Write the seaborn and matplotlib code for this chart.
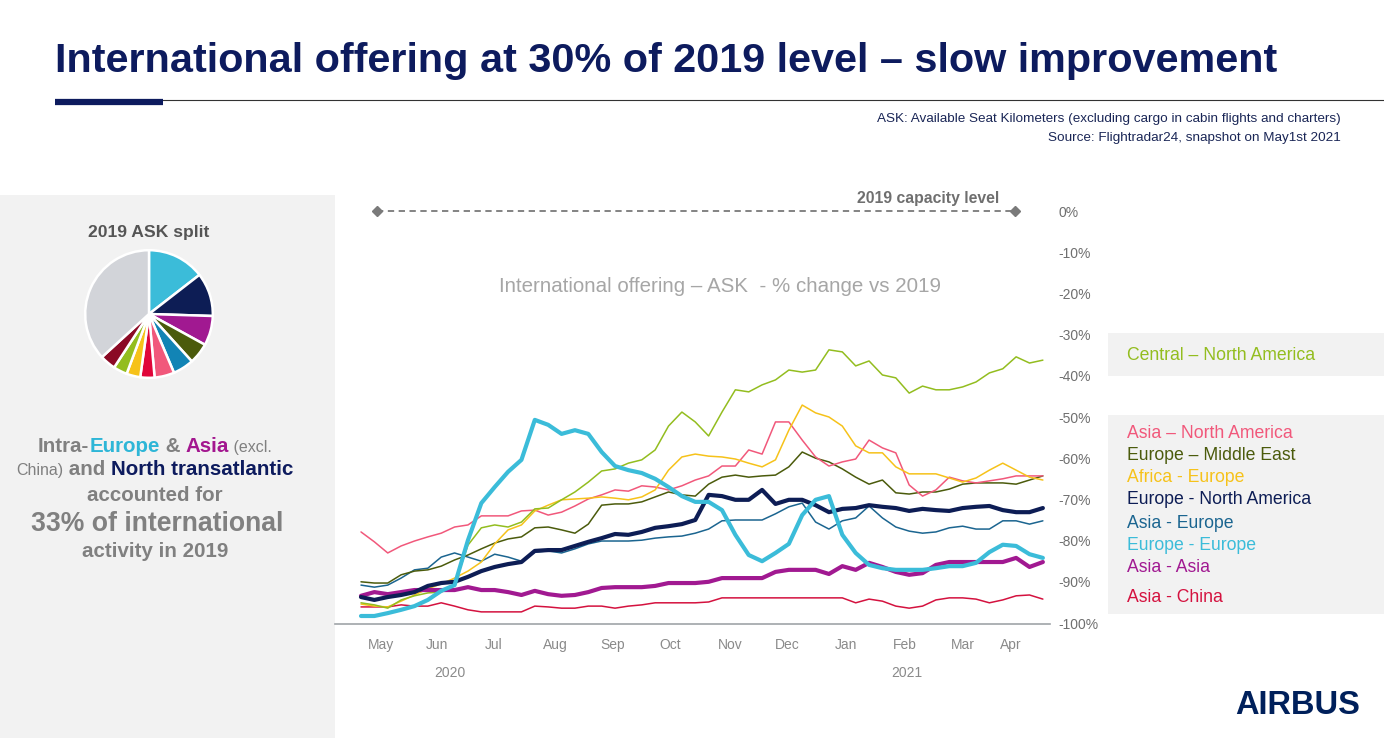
import numpy as np
import pandas as pd
import matplotlib
matplotlib.use("Agg")
import matplotlib.pyplot as plt
from matplotlib.patches import Rectangle
import matplotlib.transforms as mtrans
import seaborn as sns

# ---------------- data ----------------
weeks = list(range(52))

europe_europe = [-98.3, -98.3, -97.6, -96.8, -95.9, -94.4, -92.2, -90.8, -79.9, -70.9,
                 -67.0, -63.3, -60.4, -50.7, -51.9, -54.1, -53.2, -54.1, -58.5, -61.9,
                 -62.9, -63.6, -65.0, -67.0, -69.2, -70.6, -70.6, -72.6, -78.6, -83.5,
                 -85.0, -83.0, -80.8, -73.8, -70.1, -69.2, -78.6, -83.0, -85.9, -86.7,
                 -87.1, -87.1, -87.1, -86.7, -86.2, -86.2, -85.4, -82.8, -81.0, -81.3,
                 -83.3, -84.2]
europe_north_america = [-93.7, -94.4, -93.7, -93.2, -92.5, -91.0, -90.3, -90.0, -88.8, -87.4,
                        -86.4, -85.7, -85.2, -82.5, -82.3, -82.3, -81.3, -80.3, -79.4, -78.4,
                        -78.6, -77.9, -76.9, -76.5, -76.0, -75.0, -68.9, -69.2, -70.1, -70.1,
                        -67.7, -71.1, -70.1, -70.1, -71.4, -73.1, -72.3, -72.1, -71.4, -71.8,
                        -72.1, -72.8, -72.3, -72.6, -72.8, -72.1, -71.8, -71.6, -72.6, -73.1,
                        -73.1, -72.1]
asia_asia = [-93.4, -92.5, -93.0, -92.5, -92.0, -92.0, -92.0, -92.0, -91.3, -92.0,
             -92.0, -92.5, -93.2, -92.2, -93.0, -93.4, -93.2, -92.5, -91.5, -91.3,
             -91.3, -91.3, -91.0, -90.3, -90.3, -90.3, -90.0, -89.1, -89.1, -89.1,
             -89.1, -87.6, -87.1, -87.1, -87.1, -88.1, -86.2, -87.1, -85.4, -86.4,
             -87.6, -88.3, -87.9, -85.9, -85.2, -85.2, -85.2, -85.2, -85.2, -84.2,
             -86.4, -85.2]
asia_china = [-96.1, -96.1, -96.1, -95.6, -95.9, -95.9, -95.1, -95.9, -96.8, -97.3,
              -97.3, -97.3, -97.3, -95.9, -96.1, -96.4, -96.4, -95.9, -95.9, -96.4,
              -95.9, -95.6, -95.1, -95.1, -95.1, -95.1, -94.9, -93.9, -93.9, -93.9,
              -93.9, -93.9, -93.9, -93.9, -93.9, -93.9, -93.9, -95.1, -94.2, -94.7,
              -95.9, -96.4, -95.9, -94.4, -93.9, -93.9, -94.2, -95.1, -94.4, -93.4,
              -93.2, -94.2]
asia_europe = [-90.8, -91.3, -90.8, -89.1, -87.1, -86.7, -84.0, -83.0, -84.0, -85.0,
               -83.3, -84.0, -85.0, -82.8, -82.5, -83.0, -82.0, -80.8, -80.1, -80.1,
               -80.1, -79.9, -79.4, -79.1, -78.9, -78.2, -77.2, -75.2, -75.0, -75.0,
               -75.0, -73.5, -71.8, -70.9, -75.5, -77.2, -75.2, -74.5, -71.6, -74.5,
               -76.7, -77.7, -78.2, -77.9, -76.9, -76.5, -77.2, -77.2, -75.2, -75.2,
               -76.0, -75.2]
europe_middle_east = [-90.0, -90.3, -90.3, -88.3, -87.4, -87.1, -86.2, -84.7, -83.5, -82.0,
                      -80.6, -79.6, -79.1, -76.9, -76.7, -77.4, -78.2, -76.0, -71.4, -71.1,
                      -71.1, -70.6, -69.4, -68.2, -68.9, -69.2, -66.3, -64.6, -64.1, -64.6,
                      -64.3, -64.1, -62.1, -58.5, -60.0, -60.9, -62.6, -64.6, -66.3, -65.3,
                      -68.4, -68.7, -68.2, -68.2, -67.5, -66.3, -66.0, -66.0, -66.0, -66.3,
                      -65.3, -64.3]
asia_north_america = [-77.9, -80.3, -83.0, -81.3, -80.1, -79.1, -78.2, -76.7, -76.2, -74.0,
                      -74.0, -74.0, -72.8, -72.6, -73.8, -73.1, -71.6, -69.9, -68.9, -67.7,
                      -68.0, -66.7, -67.0, -67.7, -66.7, -65.3, -64.3, -61.9, -61.9, -58.0,
                      -59.0, -51.2, -51.2, -55.6, -59.7, -61.9, -60.9, -60.2, -55.6, -57.5,
                      -58.7, -66.5, -69.2, -67.7, -64.6, -65.5, -66.0, -65.5, -65.0, -64.3,
                      -64.3, -64.3]
africa_europe = [-95.4, -95.9, -96.1, -94.7, -93.2, -91.7, -90.5, -89.1, -87.4, -85.2,
                 -80.8, -77.4, -76.2, -72.8, -71.4, -70.1, -69.9, -69.7, -69.4, -69.7,
                 -70.1, -69.4, -67.7, -62.9, -59.7, -59.0, -59.5, -59.7, -60.2, -61.2,
                 -62.1, -60.4, -53.2, -47.1, -49.0, -50.0, -52.2, -57.0, -58.7, -58.7,
                 -62.1, -63.8, -63.8, -63.8, -64.8, -65.8, -64.8, -62.9, -61.2, -62.9,
                 -64.6, -65.3]
central_north_america = [-95.1, -95.6, -96.4, -94.4, -93.4, -92.7, -92.5, -90.8, -81.1, -76.9,
                         -76.2, -76.7, -75.5, -72.3, -72.1, -70.1, -68.2, -65.8, -63.1, -62.6,
                         -61.2, -60.4, -58.0, -52.2, -48.8, -51.2, -54.6, -48.8, -43.4, -43.9,
                         -42.2, -41.0, -38.6, -39.1, -38.6, -33.7, -34.2, -37.6, -36.4, -39.8,
                         -40.5, -44.2, -42.5, -43.4, -43.4, -42.7, -41.5, -39.3, -38.3, -35.4,
                         -36.9, -36.2]

month_labels = ["May", "Jun", "Jul", "Aug", "Sep", "Oct", "Nov", "Dec", "Jan", "Feb", "Mar", "Apr"]
month_pos = [1.5, 5.68, 9.95, 14.5, 18.85, 23.1, 27.6, 31.9, 36.3, 40.7, 45.0, 48.6]
year_labels = ["2020", "2021"]
year_pos = [6.66, 40.84]
y_ticks = [0, -10, -20, -30, -40, -50, -60, -70, -80, -90, -100]
y_tick_labels = ["0%", "-10%", "-20%", "-30%", "-40%", "-50%", "-60%", "-70%", "-80%", "-90%", "-100%"]

pie_labels = ["Europe - Europe", "Europe - North America", "Asia - Asia", "Europe - Middle East",
              "Asia - Europe", "Asia - North America", "Asia - China", "Africa - Europe",
              "Central - North America", "Other-1", "Other"]
pie_values = [14.5, 11.0, 7.5, 5.3, 5.3, 5.0, 3.6, 3.5, 3.5, 4.0, 36.8]

# ---------------- styles ----------------
colors = {
    "Central – North America": "#93bd1f",
    "Asia – North America": "#f1587b",
    "Europe – Middle East": "#4b5b0c",
    "Africa - Europe": "#f6c21a",
    "Europe - North America": "#0d1d55",
    "Asia - Europe": "#1b6590",
    "Europe - Europe": "#3bbcd9",
    "Asia - Asia": "#a11991",
    "Asia - China": "#d4123f",
}
pie_colors = ["#3bbcd9", "#0d1d55", "#a11991", "#4b5b0c", "#1284b5", "#f1587b",
              "#e0063a", "#f6c21a", "#93bd1f", "#8b0a25", "#d2d4d9"]

series = [
    ("Asia - China", asia_china, 1.1),
    ("Asia - Europe", asia_europe, 1.1),
    ("Europe – Middle East", europe_middle_east, 1.1),
    ("Asia – North America", asia_north_america, 1.1),
    ("Africa - Europe", africa_europe, 1.1),
    ("Central – North America", central_north_america, 1.1),
    ("Asia - Asia", asia_asia, 3.0),
    ("Europe - North America", europe_north_america, 3.0),
    ("Europe - Europe", europe_europe, 3.0),
]

sns.set_theme(style="white")
plt.rcParams["font.family"] = ["Liberation Sans", "DejaVu Sans"]

W, H = 1384, 738
fig = plt.figure(figsize=(W / 100, H / 100), dpi=100)
fig.patch.set_facecolor("white")

def fx(px):
    return px / W

def fy(py):
    return 1 - py / H

# left grey panel
fig.patches.append(Rectangle((0, 0), fx(335), fy(195), transform=fig.transFigure,
                             facecolor="#f2f2f2", edgecolor="none", zorder=-5))
# legend panels
fig.patches.append(Rectangle((fx(1108), fy(376)), 1 - fx(1108), (376 - 333) / H,
                             transform=fig.transFigure, facecolor="#f2f2f2", edgecolor="none", zorder=-5))
fig.patches.append(Rectangle((fx(1108), fy(614)), 1 - fx(1108), (614 - 415) / H,
                             transform=fig.transFigure, facecolor="#f2f2f2", edgecolor="none", zorder=-5))

# title
fig.text(fx(55), fy(61), "International offering at 30% of 2019 level – slow improvement",
         fontsize=29.8, fontweight="bold", color="#0d1b5e", va="center", ha="left")
fig.add_artist(plt.Line2D([fx(55), 1.0], [fy(100), fy(100)], color="#333333", lw=0.8,
                          transform=fig.transFigure))
fig.add_artist(plt.Line2D([fx(55), fx(163)], [fy(102), fy(102)], color="#0d1b5e", lw=4.5,
                          transform=fig.transFigure, solid_capstyle="butt"))
fig.text(fx(1341), fy(119), "ASK: Available Seat Kilometers (excluding cargo in cabin flights and charters)",
         fontsize=9.7, color="#1a2656", ha="right", va="center")
fig.text(fx(1341), fy(138), "Source: Flightradar24, snapshot on May1st 2021",
         fontsize=9.7, color="#1a2656", ha="right", va="center")

# ---------------- main chart ----------------
ax = fig.add_axes([fx(335), fy(624), (1050 - 335) / W, (624 - 190) / H])
ax.set_facecolor("none")
px0, dpx = 361, 13.37
ax.set_xlim((335 - px0) / dpx, (1050 - px0) / dpx)
ax.set_ylim(-(624 - 211) / 4.12, (211 - 190) / 4.12)

for name, vals, lw in series:
    df = pd.DataFrame({"week": weeks, "value": vals})
    sns.lineplot(data=df, x="week", y="value", ax=ax, color=colors[name], lw=lw,
                 legend=False, solid_joinstyle="round")

for s in ["top", "left", "right"]:
    ax.spines[s].set_visible(False)
ax.spines["bottom"].set_color("#a0a4a8")
ax.spines["bottom"].set_linewidth(1.2)
ax.yaxis.tick_right()
ax.set_yticks(y_ticks)
ax.set_yticklabels(y_tick_labels)
ax.tick_params(axis="y", length=0, pad=6, labelsize=10, labelcolor="#6f6f6f")
ax.set_xticks(month_pos)
ax.set_xticklabels(month_labels)
ax.tick_params(axis="x", length=0, pad=10, labelsize=10, labelcolor="#8a8a8a")
ax.set_xlabel("")
ax.set_ylabel("")
ax.grid(False)

blend = mtrans.blended_transform_factory(ax.transData, ax.transAxes)
for lab, pos in zip(year_labels, year_pos):
    ax.text(pos, -0.113, lab, transform=blend, ha="center", va="center",
            fontsize=10, color="#8a8a8a")

# 2019 capacity level
ax.plot([(377 - px0) / dpx, (1015 - px0) / dpx], [0, 0], ls=(0, (3.5, 2.5)), lw=1.3,
        color="#7a7a7a", marker="D", markersize=5, clip_on=False)
ax.text((928 - 335) / 715, (624 - 198) / 434, "2019 capacity level", transform=ax.transAxes,
        ha="center", va="center", fontsize=11.3, fontweight="bold", color="#6f6f6f")
ax.text((720 - 335) / 715, (624 - 287) / 434, "International offering – ASK  - % change vs 2019",
        transform=ax.transAxes, ha="center", va="center", fontsize=14.8, color="#a6a6a6")

# legend text
legend_items = [("Central – North America", 355), ("Asia – North America", 433),
                ("Europe – Middle East", 455), ("Africa - Europe", 478),
                ("Europe - North America", 500), ("Asia - Europe", 523),
                ("Europe - Europe", 545), ("Asia - Asia", 567), ("Asia - China", 598)]
for name, ypx in legend_items:
    fig.text(fx(1127), fy(ypx), name, color=colors[name], fontsize=12.7, va="center", ha="left")

# ---------------- pie ----------------
pax = fig.add_axes([fx(149 - 67), fy(314 + 67), 134 / W, 134 / H])
pax.set_zorder(5)
pax.pie(pie_values, colors=pie_colors, startangle=90, counterclock=False,
        wedgeprops=dict(edgecolor="white", linewidth=1.8))
pax.set_aspect("equal")
pax.set_xlim(-1.05, 1.05)
pax.set_ylim(-1.05, 1.05)
pax.axis("off")
fig.text(fx(149), fy(233), "2019 ASK split", fontsize=12.6, fontweight="bold",
         color="#555555", ha="center", va="center")

# ---------------- rich text on left ----------------
GRAY = "#808080"
renderer = fig.canvas.get_renderer()

def rich_line(pieces, cx, baseline):
    texts = []
    for s, col, w, sz in pieces:
        t = fig.text(0, fy(baseline), s, color=col, fontweight=w, fontsize=sz,
                     ha="left", va="baseline")
        texts.append(t)
    widths = [t.get_window_extent(renderer).width for t in texts]
    x = cx - sum(widths) / 2
    for t, w in zip(texts, widths):
        t.set_x(fx(x))
        x += w

B, S = 14.8, 11.5
rich_line([("Intra-", GRAY, "bold", B), ("Europe", "#2eb6d7", "bold", B),
           (" & ", GRAY, "bold", B), ("Asia", "#a3168f", "bold", B),
           (" (excl.", GRAY, "normal", S)], 155, 452)
rich_line([("China)", GRAY, "normal", S), (" and ", GRAY, "bold", B),
           ("North transatlantic", "#0d1b5e", "bold", B)], 155, 475)
rich_line([("accounted for", GRAY, "bold", B)], 155, 501)
rich_line([("33% of international", GRAY, "bold", 19.2)], 157, 531)
rich_line([("activity in 2019", GRAY, "bold", B)], 155, 557)

# logo
fig.text(fx(1298), fy(705), "AIRBUS", fontsize=23.5, fontweight="bold", color="#00205b",
         ha="center", va="center")

fig.savefig("out.png", dpi=100, facecolor="white")
